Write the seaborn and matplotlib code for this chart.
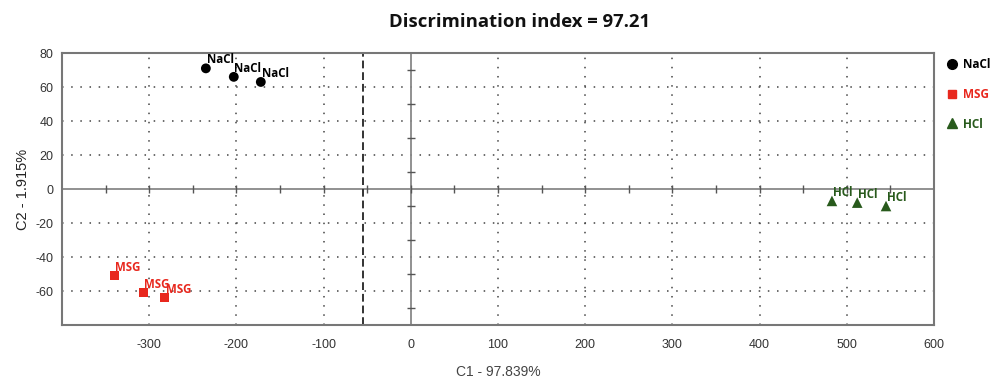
import matplotlib
matplotlib.use("Agg")
import matplotlib.pyplot as plt
import seaborn as sns
import pandas as pd
import numpy as np
from matplotlib.lines import Line2D

groups = ["NaCl", "NaCl", "NaCl", "MSG", "MSG", "MSG", "HCl", "HCl", "HCl"]
c1 = [-235, -203, -172, -340, -307, -282, 483, 512, 545]
c2 = [71, 66, 63, -51, -61, -64, -7, -8, -10]
categories = ["NaCl", "MSG", "HCl"]
colors = {"NaCl": "#000000", "MSG": "#e8281e", "HCl": "#285a1c"}
markers = {"NaCl": "o", "MSG": "s", "HCl": "^"}
sizes = {"NaCl": 50, "MSG": 42, "HCl": 58}
x_ticks = [-300, -200, -100, 0, 100, 200, 300, 400, 500, 600]
y_ticks = [-60, -40, -20, 0, 20, 40, 60, 80]
cross_x_ticks = np.arange(-350, 600, 50)
cross_y_ticks = np.arange(-70, 80, 20)
threshold_x = -55

df = pd.DataFrame({"group": groups, "C1": c1, "C2": c2})

sns.set_theme(style="white")
plt.rcParams["font.family"] = ["Liberation Sans", "DejaVu Sans"]
plt.rcParams["axes.unicode_minus"] = False

fig = plt.figure(figsize=(9.92, 3.79), dpi=100)
ax = fig.add_axes([0.0625, 0.1425, 0.879, 0.7175])

grid_kw = dict(color="#444444", lw=1.1, ls=(0, (1, 5)), zorder=0)
for xv in x_ticks:
    if xv != 0:
        ax.axvline(xv, **grid_kw)
for yv in y_ticks:
    if yv != 0:
        ax.axhline(yv, **grid_kw)

ax.axhline(0, color="#888888", lw=1.3, zorder=1)
ax.axvline(0, color="#888888", lw=1.3, zorder=1)
ax.plot(cross_x_ticks, np.zeros_like(cross_x_ticks), ls="none", marker="|",
        ms=5.5, mew=1.0, color="#555555", zorder=1)
ax.plot(np.zeros_like(cross_y_ticks), cross_y_ticks, ls="none", marker="_",
        ms=5.5, mew=1.0, color="#555555", zorder=1)
ax.axvline(threshold_x, color="#333333", lw=1.4, ls=(0, (4, 2)), zorder=1)

for g in categories:
    sub = df[df["group"] == g]
    sns.scatterplot(data=sub, x="C1", y="C2", color=colors[g], marker=markers[g],
                    s=sizes[g], edgecolor="none", ax=ax, zorder=3, legend=False)
    for xv, yv in zip(sub["C1"], sub["C2"]):
        ax.annotate(g, (xv, yv), xytext=(0.5, 1.5), textcoords="offset points",
                    ha="left", va="bottom", fontsize=8.3, fontweight="bold",
                    color=colors[g], family=["Open Sans", "DejaVu Sans"], zorder=4)

ax.set_xlim(-400, 600)
ax.set_ylim(-80, 80)
ax.set_xticks(x_ticks)
ax.set_yticks(y_ticks)
ax.tick_params(axis="x", length=0, labelsize=9, labelcolor="#333333", pad=10)
ax.tick_params(axis="y", length=0, labelsize=9, labelcolor="#333333", pad=6)
for s in ax.spines.values():
    s.set_color("#777777")
    s.set_linewidth(1.5)

ax.set_xlabel("C1 - 97.839%", fontsize=10, color="#444444", labelpad=10)
ax.set_ylabel("C2 - 1.915%", fontsize=10.5, color="#222222", labelpad=4)

fig.text(0.524, 0.942, "Discrimination index = 97.21", ha="center", va="center",
         fontsize=13.3, fontweight="bold", family=["Open Sans", "DejaVu Sans"],
         color="#111111")

handles = [Line2D([], [], ls="none", marker=markers[g], color=colors[g],
                  markersize=7 if g != "MSG" else 6) for g in categories]
leg = fig.legend(handles, categories, loc="upper left", bbox_to_anchor=(0.945, 0.875),
                 frameon=False, handlelength=0.6, handletextpad=0.7, labelspacing=1.42,
                 prop={"family": ["Open Sans", "DejaVu Sans"], "weight": "bold", "size": 8.5})
for t, g in zip(leg.get_texts(), categories):
    t.set_color(colors[g])

fig.savefig("out.png", dpi=100)
